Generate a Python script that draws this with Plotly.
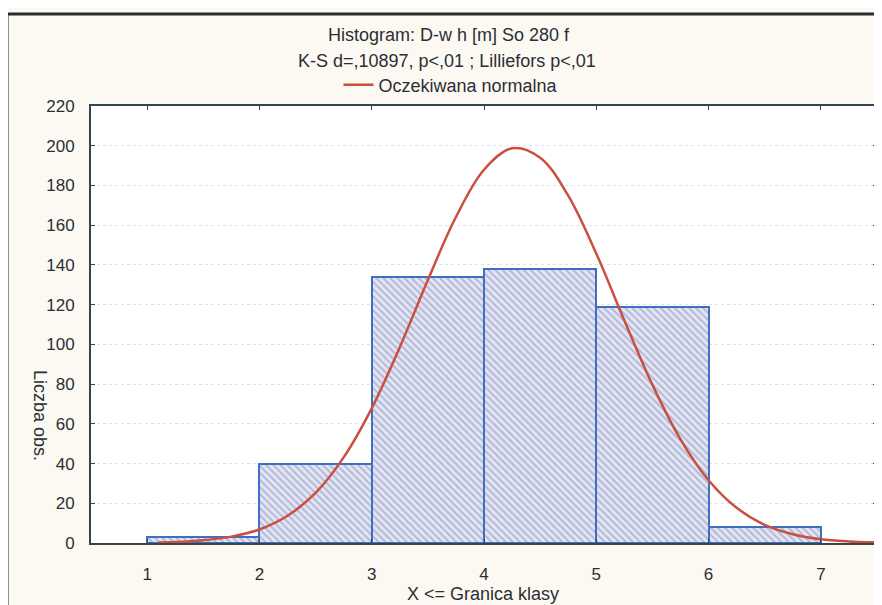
import plotly.graph_objects as go

# ---- data ----
bin_upper = [2, 3, 4, 5, 6, 7]          # "X <= Granica klasy"
counts = [3, 40, 134, 138, 119, 8]      # Liczba obs.

curve_x = [1.1, 1.25, 1.5, 1.75, 2.0, 2.25, 2.5, 2.75, 3.0, 3.25, 3.5, 3.75,
           4.0, 4.25, 4.5, 4.75, 5.0, 5.25, 5.5, 5.75, 6.0, 6.25, 6.5, 6.75,
           7.0, 7.25, 7.5]
curve_y = [0.3, 0.5, 1.4, 3.2, 6.8, 13.7, 25.2, 43.1, 67.8, 98.6, 132.4, 164.1,
           187.9, 198.7, 194.0, 174.9, 145.7, 112.0, 79.6, 52.2, 31.6, 17.7, 9.1, 4.4,
           1.9, 0.8, 0.3]

x_ticks = [1, 2, 3, 4, 5, 6, 7]
title_lines = ["Histogram: D-w h [m] So 280 f",
               "K-S d=,10897, p<,01 ; Lilliefors p<,01"]
legend_name = "Oczekiwana normalna"
x_title = "X <= Granica klasy"
y_title = "Liczba obs."

bar_centers = [u - 0.5 for u in bin_upper]

FONT = "Liberation Sans, Arial, sans-serif"
TXT = "#2a2f34"
AX = "#33464f"

fig = go.Figure()
fig.add_trace(go.Bar(
    x=bar_centers, y=counts, width=[1] * len(counts),
    marker=dict(
        color="#7a96cc",
        line=dict(color="#3f6fc0", width=2),
        pattern=dict(shape="\\", bgcolor="#e6e4f0", fgcolor="#7390c8",
                     size=5, solidity=0.4),
    ),
    showlegend=False, hoverinfo="skip",
))
fig.add_trace(go.Scatter(
    x=curve_x, y=curve_y, mode="lines", name=legend_name,
    line=dict(color="#c9503f", width=2.5, shape="spline"),
))

# page body has an 8px margin: work in reference pixels and shift by OFF
OFF = 8
W, H = 882 - OFF, 605 - OFF
PL, PR, PT, PB = 91, 877, 106, 543       # plot area in reference pixels
L, R, T, B = PL - OFF, W - (PR - OFF), PT - OFF, H - (PB - OFF)
pw, ph = W - L - R, H - T - B

def px_x(p):
    return (p - OFF - L) / pw

def px_y(p):
    return (H - B - (p - OFF)) / ph

def label(text, x, y, size=18, angle=0):
    return dict(text=text, x=px_x(x), y=px_y(y), xref="paper", yref="paper",
                xanchor="center", yanchor="middle", textangle=angle,
                showarrow=False, font=dict(size=size, color=TXT, family=FONT))

annotations = [
    label(title_lines[0], 449, 35),
    label(title_lines[1], 447, 61),
    label(x_title, 483, 594),
    label(y_title, 40, 415, angle=90),
]

shapes = [
    dict(type="rect", xref="paper", yref="paper",
         x0=px_x(7), x1=px_x(900), y0=px_y(640), y1=px_y(14),
         line=dict(color="#2b2b2b", width=3), fillcolor="rgba(0,0,0,0)", layer="below"),
]

fig.update_layout(
    width=W, height=H,
    margin=dict(l=L, r=R, t=T, b=B, autoexpand=False),
    paper_bgcolor="#fcf9f2", plot_bgcolor="#ffffff",
    font=dict(family=FONT, size=17, color=TXT),
    bargap=0,
    showlegend=True,
    legend=dict(x=px_x(451), y=px_y(85), xanchor="center", yanchor="middle",
                bgcolor="rgba(0,0,0,0)", font=dict(size=18, color=TXT, family=FONT),
                itemwidth=30, tracegroupgap=0),
    annotations=annotations,
    shapes=shapes,
)
fig.update_xaxes(
    range=[0.5, 7.5], tickvals=x_ticks, ticks="inside", ticklen=4, tickcolor=AX,
    showline=True, linecolor=AX, linewidth=2, mirror="ticks", showgrid=False,
    zeroline=False, tickfont=dict(size=17, color=TXT), ticklabelstandoff=15,
)
fig.update_yaxes(
    range=[0, 220], dtick=20, ticks="inside", ticklen=4, tickcolor=AX,
    showline=True, linecolor=AX, linewidth=2, mirror="ticks",
    showgrid=True, gridcolor="#d9e3f0", griddash="dot", gridwidth=1,
    zeroline=False, tickfont=dict(size=17, color=TXT), ticklabelstandoff=11,
)

fig.write_html("out.html")
